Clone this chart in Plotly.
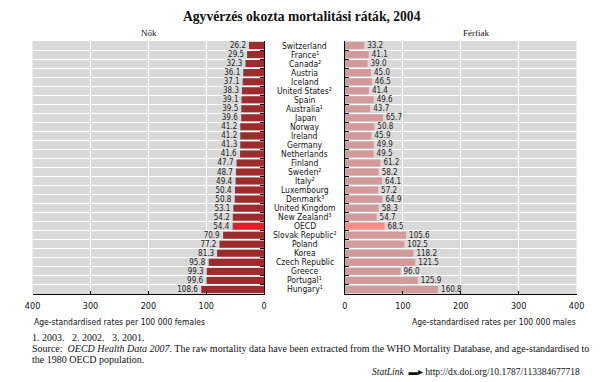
import plotly.graph_objects as go

countries = ["Switzerland", "France¹", "Canada²", "Austria", "Iceland", "United States²",
             "Spain", "Australia¹", "Japan", "Norway", "Ireland", "Germany", "Netherlands",
             "Finland", "Sweden²", "Italy²", "Luxembourg", "Denmark³", "United Kingdom",
             "New Zealand³", "OECD", "Slovak Republic²", "Poland", "Korea", "Czech Republic",
             "Greece", "Portugal¹", "Hungary¹"]
females = [26.2, 29.5, 32.3, 36.1, 37.1, 38.3, 39.1, 39.5, 39.6, 41.2, 41.2, 41.3, 41.6,
           47.7, 48.7, 49.4, 50.4, 50.8, 53.1, 54.2, 54.4, 70.9, 77.2, 81.3, 95.8, 99.3,
           99.6, 108.6]
males = [33.2, 41.1, 39.0, 45.0, 46.5, 41.4, 49.6, 43.7, 65.7, 50.8, 45.9, 49.9, 49.5,
         61.2, 58.2, 64.1, 57.2, 64.9, 58.3, 54.7, 68.5, 105.6, 102.5, 118.2, 121.5, 96.0,
         125.9, 160.8]
x_ticks = [0, 100, 200, 300, 400]

# page body has an 8px margin: figure is drawn 8px right/down of the window corner
OFF = 8
W, H = 605 - OFF, 382 - OFF
NARROW = "Liberation Sans Narrow, Arial Narrow, DejaVu Sans Condensed, sans-serif"
SERIF = "Liberation Serif, Times New Roman, serif"


def px(x):
    return (x - OFF) / W


def py(y):
    return 1 - (y - OFF) / H


pos = list(range(len(countries)))
f_colors = ["#E3202A" if c == "OECD" else "#9E2B2E" for c in countries]
m_colors = ["#FF8A84" if c == "OECD" else "#D39A9B" for c in countries]

fig = go.Figure()
fig.add_trace(go.Bar(
    x=females, y=pos, orientation="h", marker=dict(color=f_colors, line_width=0),
    width=0.78, text=[f"{v:.1f}" for v in females], textposition="outside",
    constraintext="none", cliponaxis=False,
    textfont=dict(family=NARROW, size=8, color="#222"),
    xaxis="x", yaxis="y", hoverinfo="skip"))
fig.add_trace(go.Bar(
    x=males, y=pos, orientation="h", marker=dict(color=m_colors, line_width=0),
    width=0.78, text=[f"{v:.1f}" for v in males], textposition="outside",
    constraintext="none", cliponaxis=False,
    textfont=dict(family=NARROW, size=8, color="#222"),
    xaxis="x2", yaxis="y2", hoverinfo="skip"))

xcommon = dict(tickvals=x_ticks, ticktext=[str(t) for t in x_ticks], showgrid=True,
               gridcolor="white", gridwidth=1, showline=True, linecolor="black",
               linewidth=1, ticks="inside", ticklen=3, tickcolor="black", zeroline=False,
               tickfont=dict(family=NARROW, size=9, color="#111"), fixedrange=True,
               ticklabelstandoff=3)
ybounds = [i + 0.5 for i in range(len(countries) - 1)]
ycommon = dict(range=[len(countries) - 0.5, -0.5], tickvals=ybounds, showticklabels=False,
               showgrid=True, gridcolor="white", gridwidth=1.2, showline=True,
               linecolor="black", linewidth=1, ticks="inside", ticklen=4,
               tickcolor="black", zeroline=False, fixedrange=True)

fig.update_layout(
    width=W, height=H, margin=dict(l=0, r=0, t=0, b=0),
    paper_bgcolor="white", plot_bgcolor="#D9D9D9", showlegend=False, barmode="overlay",
    xaxis=dict(domain=[px(25), px(263)], range=[400, 0], anchor="y", **xcommon),
    yaxis=dict(domain=[py(294), py(41)], anchor="x", side="right", **ycommon),
    xaxis2=dict(domain=[px(346), px(584)], range=[0, 400], anchor="y2", **xcommon),
    yaxis2=dict(domain=[py(294), py(41)], anchor="x2", side="left", **ycommon),
)

ann = []
for i, c in enumerate(countries):
    ann.append(dict(x=px(304.5), xref="paper", y=i, yref="y", text=c, showarrow=False,
                    xanchor="center", yanchor="middle",
                    font=dict(family=NARROW, size=8.5, color="#111")))


def ptext(x, y, text, size, family, anchor="left", color="#111"):
    ann.append(dict(x=px(x), y=py(y), xref="paper", yref="paper", text=text,
                    showarrow=False, xanchor=anchor, yanchor="middle",
                    font=dict(family=family, size=size, color=color)))


ptext(302, 17, "<b>Agyvérzés okozta mortalitási ráták, 2004</b>", 13.6, SERIF, "center")
ptext(145, 33, "Nők", 9, SERIF, "center")
ptext(481, 33, "Férfiak", 9, SERIF, "center")
ptext(24, 322, "Age-standardised rates per 100 000 females", 8.5, NARROW, "left")
ptext(585, 322, "Age-standardised rates per 100 000 males", 8.5, NARROW, "right")
ptext(22, 337, "1. 2003.   2. 2002.   3. 2001.", 10, SERIF, "left")
ptext(22, 348, "Source:  <i>OECD Health Data 2007</i>. The raw mortality data have been extracted "
      "from the WHO Mortality Database, and age-standardised to", 10, SERIF, "left")
ptext(22, 359, "the 1980 OECD population.", 10, SERIF, "left")
ptext(590, 372, "<i>StatLink</i>  ▬▸ http://dx.doi.org/10.1787/113384677718", 9.5, SERIF, "right")

fig.update_layout(annotations=ann)
fig.write_html("out.html")
